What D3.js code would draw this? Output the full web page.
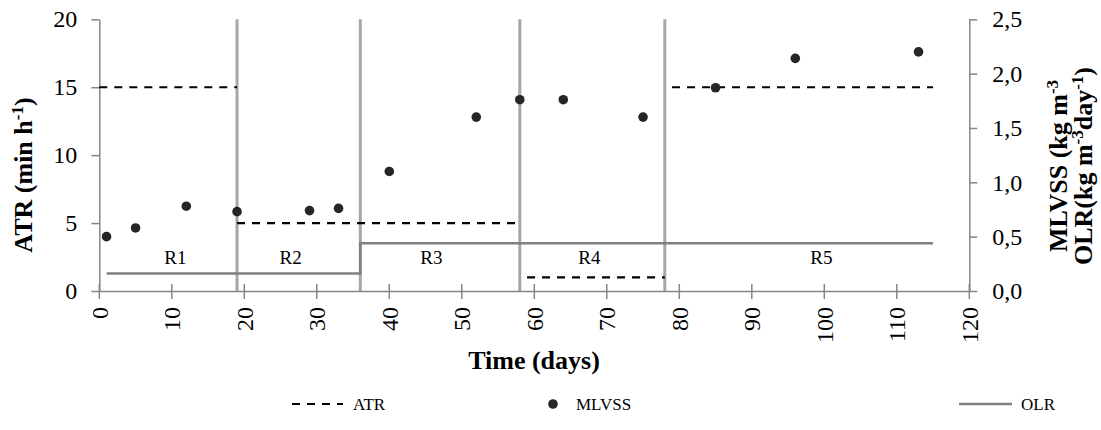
<!DOCTYPE html>
<html><head><meta charset="utf-8">
<script src="https://cdn.jsdelivr.net/npm/d3@7"></script>
<style>body{margin:0;background:#fff}svg text{font-family:"Liberation Serif","Times New Roman",serif;fill:#000}</style>
</head><body>
<svg id="c" width="1101" height="430"></svg>
<script>
// ---- data ----
const mlvssDays = [1,5,12,19,29,33,40,52,58,64,75,85,96,113];
const mlvssValues = [0.50,0.58,0.78,0.73,0.74,0.76,1.10,1.60,1.76,1.76,1.60,1.87,2.14,2.20];
const atrStart = [0,19,59,79];
const atrEnd = [19,58,78,115];
const atrValues = [15,5,1,15];
const olrDays = [1,36,36,115];
const olrValues = [0.16,0.16,0.44,0.44];
const phaseBounds = [19,36,58,78];
const phaseLabels = ["R1","R2","R3","R4","R5"];
const phaseLabelDays = [10.5,26.4,45.8,67.6,99.6];
const xTicks = [0,10,20,30,40,50,60,70,80,90,100,110,120];
const yLeftTicks = [0,5,10,15,20];
const yRightTicks = [0,0.5,1.0,1.5,2.0,2.5];

const svg = d3.select("#c");
const x = d3.scaleLinear().domain([0,120]).range([99.3,969.3]);
const yL = d3.scaleLinear().domain([0,20]).range([291,19.3]);
const yR = d3.scaleLinear().domain([0,2.5]).range([291,19.3]);
const axisCol = "#868686";

// phase boundary lines
svg.append("g").selectAll("line").data(phaseBounds).join("line")
  .attr("x1",d=>x(d)).attr("x2",d=>x(d)).attr("y1",yL(20)).attr("y2",yL(0))
  .attr("stroke","#a6a6a6").attr("stroke-width",3);

// axes
const gx = svg.append("g").attr("transform",`translate(0,${yL(0)})`)
  .call(d3.axisBottom(x).tickValues(xTicks).tickSize(0).tickFormat(""));
gx.select(".domain").attr("stroke",axisCol).attr("stroke-width",1.5);
gx.selectAll(".tick").remove();
svg.append("g").selectAll("line").data(xTicks).join("line")
  .attr("x1",d=>x(d)).attr("x2",d=>x(d)).attr("y1",yL(0)-7).attr("y2",yL(0)+8)
  .attr("stroke",axisCol).attr("stroke-width",1.5);
svg.append("g").selectAll("text").data(xTicks).join("text")
  .attr("transform",d=>`translate(${x(d)},307) rotate(-90)`)
  .attr("text-anchor","end").attr("dy","0.35em").attr("font-size",24).text(d=>d);

const gl = svg.append("g").attr("transform",`translate(${x(0)},0)`)
  .call(d3.axisLeft(yL).tickValues(yLeftTicks).tickSizeOuter(0).tickSizeInner(8).tickPadding(14));
gl.select(".domain").attr("stroke",axisCol).attr("stroke-width",1.5);
gl.selectAll(".tick line").attr("stroke",axisCol).attr("stroke-width",1.5);
gl.selectAll(".tick text").attr("font-size",24).attr("font-family","Liberation Serif").attr("fill","#000");

const gr = svg.append("g").attr("transform",`translate(${x(120)},0)`)
  .call(d3.axisRight(yR).tickValues(yRightTicks).tickSizeOuter(0).tickSizeInner(8).tickPadding(15)
  .tickFormat(d=>d3.format(".1f")(d).replace(".",",")));
gr.select(".domain").attr("stroke",axisCol).attr("stroke-width",1.5);
gr.selectAll(".tick line").attr("stroke",axisCol).attr("stroke-width",1.5);
gr.selectAll(".tick text").attr("font-size",24).attr("font-family","Liberation Serif").attr("fill","#000");

// ATR dashed
svg.append("g").selectAll("line").data(atrValues).join("line")
  .attr("x1",(d,i)=>x(atrStart[i])).attr("x2",(d,i)=>x(atrEnd[i]))
  .attr("y1",d=>yL(d)).attr("y2",d=>yL(d))
  .attr("stroke","#000").attr("stroke-width",2.2).attr("stroke-dasharray","8,7");

// OLR
svg.append("path").datum(olrDays.map((d,i)=>[d,olrValues[i]]))
  .attr("d",d3.line().x(d=>x(d[0])).y(d=>yR(d[1])))
  .attr("fill","none").attr("stroke","#808080").attr("stroke-width",2.5);

// MLVSS points
svg.append("g").selectAll("circle").data(mlvssValues).join("circle")
  .attr("cx",(d,i)=>x(mlvssDays[i])).attr("cy",d=>yR(d)).attr("r",4.8).attr("fill","#262626");

// phase labels
svg.append("g").selectAll("text").data(phaseLabels).join("text")
  .attr("x",(d,i)=>x(phaseLabelDays[i])).attr("y",yL(2)).attr("text-anchor","middle")
  .attr("font-size",19).text(d=>d);

// titles
svg.append("text").attr("x",534).attr("y",369).attr("text-anchor","middle")
  .attr("font-size",26).attr("font-weight","bold").text("Time (days)");
const lt = svg.append("text").attr("transform","translate(32,175) rotate(-90)").attr("text-anchor","middle")
  .attr("font-size",26).attr("font-weight","bold");
lt.append("tspan").text("ATR (min h");
lt.append("tspan").attr("font-size",17).attr("dy",-9).text("-1");
lt.append("tspan").attr("dy",9).text(")");

const rt1 = svg.append("text").attr("transform","translate(1067,166) rotate(-90)").attr("text-anchor","middle")
  .attr("font-size",26).attr("font-weight","bold");
rt1.append("tspan").text("MLVSS (kg m");
rt1.append("tspan").attr("font-size",17).attr("dy",-9).text("-3");
const rt2 = svg.append("text").attr("transform","translate(1092,166) rotate(-90)").attr("text-anchor","middle")
  .attr("font-size",26).attr("font-weight","bold");
rt2.append("tspan").text("OLR(kg m");
rt2.append("tspan").attr("font-size",17).attr("dy",-9).text("-3");
rt2.append("tspan").attr("dy",9).text("day");
rt2.append("tspan").attr("font-size",17).attr("dy",-9).text("-1");
rt2.append("tspan").attr("dy",9).text(")");

// legend
const lg = svg.append("g");
lg.append("line").attr("x1",292).attr("x2",343).attr("y1",404).attr("y2",404)
  .attr("stroke","#000").attr("stroke-width",2.2).attr("stroke-dasharray","8,7");
lg.append("text").attr("x",353).attr("y",410).attr("font-size",17).text("ATR");
lg.append("circle").attr("cx",553).attr("cy",404).attr("r",4.8).attr("fill","#262626");
lg.append("text").attr("x",576).attr("y",410).attr("font-size",17).text("MLVSS");
lg.append("line").attr("x1",959).attr("x2",1012).attr("y1",404).attr("y2",404)
  .attr("stroke","#808080").attr("stroke-width",2.5);
lg.append("text").attr("x",1021).attr("y",410).attr("font-size",17).text("OLR");
</script>
</body></html>
